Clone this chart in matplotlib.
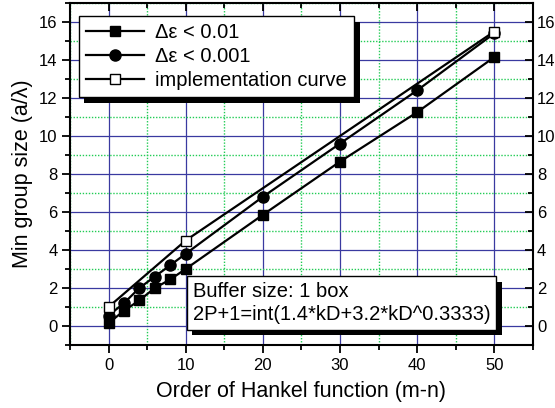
import matplotlib
matplotlib.use("Agg")
import matplotlib.pyplot as plt
from matplotlib.ticker import MultipleLocator
from matplotlib.transforms import ScaledTranslation
import matplotlib.patheffects as pe

plt.rcParams['font.family'] = ['Liberation Sans', 'DejaVu Sans']

# data
x_fine = [0, 2, 4, 6, 8, 10, 20, 30, 40, 50]
y_001 = [0.15, 0.8, 1.35, 2.0, 2.45, 3.0, 5.85, 8.65, 11.25, 14.15]
y_0001 = [0.55, 1.2, 2.0, 2.6, 3.2, 3.8, 6.8, 9.6, 12.4, 15.4]
x_impl = [0, 10, 50]
y_impl = [1.0, 4.5, 15.5]

labels = ["\u0394\u03b5 < 0.01", "\u0394\u03b5 < 0.001", "implementation curve"]
note = "Buffer size: 1 box\n2P+1=int(1.4*kD+3.2*kD^0.3333)"

fig = plt.figure(figsize=(5.55, 4.08), dpi=100)
ax = fig.add_axes([0.126, 0.1544, 0.834, 0.8382])

ax.plot(x_fine, y_001, '-s', color='black', lw=1.6, ms=7.5, label=labels[0])
ax.plot(x_fine, y_0001, '-o', color='black', lw=1.6, ms=8, label=labels[1])
ax.plot(x_impl, y_impl, '-s', color='black', lw=1.6, ms=7.5,
        mfc='white', mec='black', label=labels[2])

ax.set_xlim(-5, 55)
ax.set_ylim(-1, 17)
ax.xaxis.set_major_locator(MultipleLocator(10))
ax.xaxis.set_minor_locator(MultipleLocator(5))
ax.yaxis.set_major_locator(MultipleLocator(2))
ax.yaxis.set_minor_locator(MultipleLocator(1))

ax.grid(which='major', color='#3a3aa0', lw=0.9, ls='-')
ax.grid(which='minor', color='#22cc55', lw=1.0, ls=(0, (1, 1.2)))
ax.set_axisbelow(True)

for s in ax.spines.values():
    s.set_linewidth(1.5)

ax.tick_params(which='both', direction='out', width=1.3, labelsize=12,
               top=True, right=True, labelright=True)
ax.tick_params(which='major', length=5.5)
ax.tick_params(which='minor', length=3.5)
ax.tick_params(axis='y', which='major', pad=3.5)
# top and right ticks point inward, so the right labels sit close to the spine
for t in ax.xaxis.get_ticklines(minor=False)[1::2] + ax.xaxis.get_ticklines(minor=True)[1::2]:
    t.set_marker(3)
for t in ax.yaxis.get_ticklines(minor=False)[1::2] + ax.yaxis.get_ticklines(minor=True)[1::2]:
    t.set_marker(0)
for tk in ax.yaxis.get_major_ticks():
    tk.label2.set_transform(tk.label2.get_transform() +
                            ScaledTranslation(-6 / 72, 0, fig.dpi_scale_trans))

ax.set_xlabel("Order of Hankel function (m-n)", fontsize=15.5, labelpad=6)
ax.set_ylabel("Min group size (a/\u03bb)", fontsize=15.5, labelpad=4)

leg = ax.legend(loc='upper left', bbox_to_anchor=(0.019, 0.962), fontsize=14.5,
                frameon=True, fancybox=False, shadow=False, edgecolor='black',
                handlelength=2.9, handletextpad=0.55, borderpad=0.35,
                labelspacing=0.25, borderaxespad=0)
leg.get_frame().set_linewidth(1.0)
leg.get_frame().set_alpha(1)
leg.get_frame().set_path_effects([
    pe.withSimplePatchShadow(offset=(4, -4), shadow_rgbFace='black', alpha=1)])

ax.text(0.265, 0.062, note, transform=ax.transAxes, fontsize=14.5,
        va='bottom', ha='left', linespacing=1.25,
        bbox=dict(boxstyle='square,pad=0.3', fc='white', ec='black', lw=1.0,
                  path_effects=[pe.withSimplePatchShadow(offset=(4, -4), shadow_rgbFace='black', alpha=1)]))

fig.savefig("out.png", dpi=100)
